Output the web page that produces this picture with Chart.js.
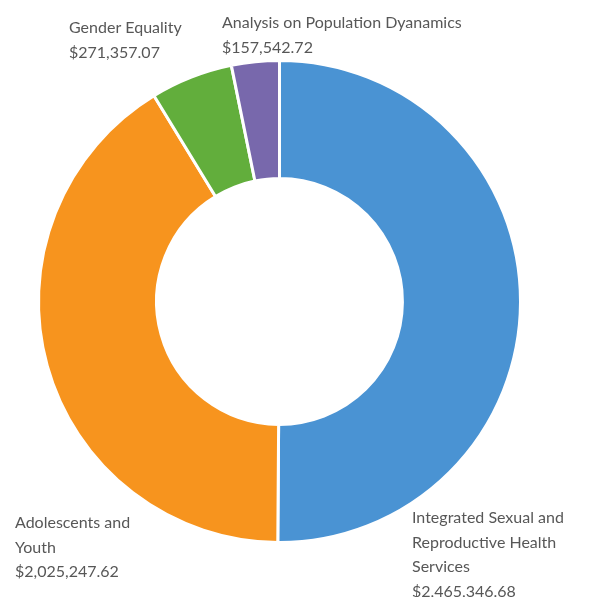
<!DOCTYPE html>
<html>
<head>
<meta charset="utf-8">
<script src="https://cdn.jsdelivr.net/npm/chart.js@4.4.0/dist/chart.umd.min.js"></script>
<style>
  html, body { margin:0; padding:0; background:#fff; }
  #wrap { width:591px; height:597px; position:relative; }
</style>
</head>
<body>
<div id="wrap"><canvas id="grafica"></canvas></div>
<script>
const categorias = [
  ["Integrated Sexual and", "Reproductive Health", "Services"],
  ["Adolescents and", "Youth"],
  ["Gender Equality"],
  ["Analysis on Population Dyanamics"]
];
const montos = [2465346.68, 2025247.62, 271357.07, 157542.72];
const colores = ["#4A93D3", "#F7941E", "#62AE3C", "#7868AC"];

function fmtMoney(v) {
  return "$" + v.toLocaleString("en-US", { minimumFractionDigits: 2, maximumFractionDigits: 2 });
}

// where each label block starts (left x, first line y)
const labelSpots = [
  { x: 412, y: 518 },
  { x: 15,  y: 523 },
  { x: 69,  y: 28 },
  { x: 222, y: 23 }
];

const labelPlugin = {
  id: "outerLabels",
  afterDraw(c) {
    const ctx = c.ctx;
    ctx.save();
    ctx.font = "16px Lato, 'Open Sans', sans-serif";
    ctx.fillStyle = "#575757";
    ctx.textBaseline = "middle";
    ctx.textAlign = "left";
    categorias.forEach((lines, i) => {
      const spot = labelSpots[i];
      const all = [...lines, fmtMoney(montos[i])];
      all.forEach((t, k) => ctx.fillText(t, spot.x, spot.y + k * 24.5));
    });
    ctx.restore();
  }
};

new Chart(document.getElementById("grafica"), {
  type: "doughnut",
  data: {
    labels: categorias.map(l => l.join(" ")),
    datasets: [{
      data: montos,
      backgroundColor: colores,
      borderColor: "#fff",
      borderWidth: 3
    }]
  },
  options: {
    responsive: true,
    maintainAspectRatio: false,
    animation: false,
    cutout: "51%",
    layout: { padding: { left: 37, right: 69, top: 59, bottom: 53 } },
    plugins: {
      legend: { display: false },
      tooltip: { enabled: false }
    }
  },
  plugins: [labelPlugin]
});
</script>
</body>
</html>
